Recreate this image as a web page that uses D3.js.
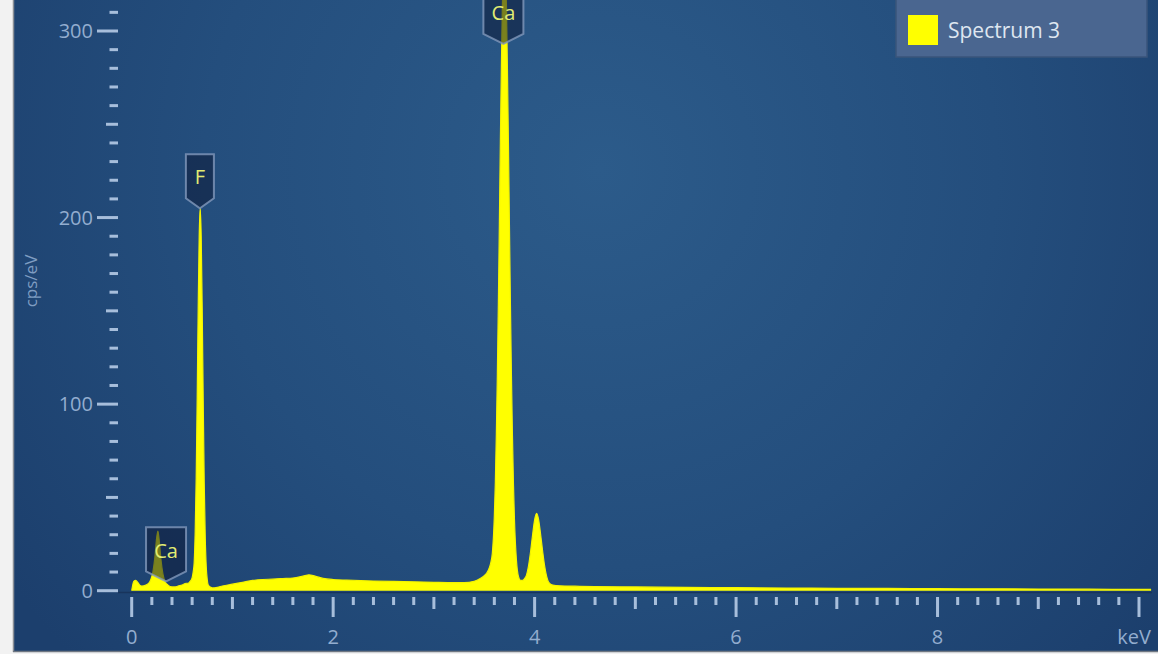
<!DOCTYPE html>
<html><head><meta charset="utf-8">
<script src="https://cdn.jsdelivr.net/npm/d3@7"></script>
<style>
html,body{margin:0;padding:0;background:#f2f2f2;}
svg{display:block;}
</style></head>
<body>
<svg id="c" width="1158" height="654"></svg>
<script>
// ---- data ----
const energy = [0.00,0.01,0.02,0.04,0.06,0.08,0.10,0.14,0.17,0.19,0.21,0.23,0.245,0.26,0.275,0.29,0.31,0.33,0.36,0.40,0.43,0.46,0.50,0.54,0.56,0.58,0.60,0.61,0.62,0.63,0.64,0.65,0.66,0.67,0.68,0.69,0.70,0.71,0.72,0.73,0.74,0.75,0.76,0.78,0.80,0.85,0.90,1.00,1.10,1.20,1.30,1.40,1.50,1.60,1.70,1.76,1.82,1.90,2.00,2.20,2.40,2.60,2.80,3.00,3.20,3.30,3.40,3.46,3.50,3.54,3.56,3.58,3.60,3.61,3.62,3.63,3.64,3.65,3.66,3.67,3.68,3.69,3.70,3.71,3.72,3.73,3.74,3.75,3.76,3.77,3.78,3.79,3.80,3.82,3.84,3.86,3.88,3.90,3.92,3.94,3.96,3.98,4.00,4.02,4.04,4.06,4.08,4.10,4.12,4.14,4.18,4.25,4.40,4.60,5.00,5.50,6.00,6.50,7.00,7.50,8.00,8.50,9.00,9.50,10.00,10.12];
const counts = [0,3,5,5.5,4.5,3,2.5,3,4,6,10,18,27,32,26,17,9,5,3,2,2,2.5,3,4,4,5,7,10,15,31,60,103,151,190,205,190,151,102,58,29,13,6,3,2,1.5,1.8,2.5,3.5,4.5,5.5,6,6.2,6.5,6.8,7.8,8.5,7.8,6.6,6,5.6,5.2,5,4.8,4.5,4.3,4.3,5,6.5,8,11,14,20,40,58,84,116,154,197,241,281,314,335,344,335,314,280,240,196,153,115,83,57,38,16,7.5,5.5,5.5,6.5,8.5,13.5,21,30,38,41.5,38,30,21,13,7.5,4.5,3,2.6,2.4,2.2,2.0,1.8,1.6,1.4,1.3,1.2,1.1,1.0,0.9,0.8,0.7,0.7];
const seriesName = "Spectrum 3";
const peakLabels = ["Ca","F","Ca"];
const peakEnergies = [0.341,0.677,3.69];
const xTickValues = [0,2,4,6,8,10];
const xTickLabels = ["0","2","4","6","8","keV"];
const yTickValues = [0,100,200,300];
const yTickLabels = ["0","100","200","300"];
const yTitle = "cps/eV";

// ---- layout ----
const svg = d3.select("#c");
const W = 1158, H = 654;
const panel = {x0:14, y0:0, x1:1158, y1:651};
const x = d3.scaleLinear().domain([0,10]).range([131.7,1139]);
const y = d3.scaleLinear().domain([0,300]).range([590.7,31]);

const defs = svg.append("defs");
const rg = defs.append("radialGradient").attr("id","bg")
  .attr("gradientUnits","userSpaceOnUse").attr("cx",600).attr("cy",170).attr("r",720);
rg.append("stop").attr("offset","0").attr("stop-color","#2c5b8a");
rg.append("stop").attr("offset","0.55").attr("stop-color","#244e7d");
rg.append("stop").attr("offset","1").attr("stop-color","#1c3f6d");
defs.append("clipPath").attr("id","plotclip").append("rect")
  .attr("x",118).attr("y",0).attr("width",1152-118).attr("height",591.5);

// page / panel
svg.append("rect").attr("x",0).attr("y",0).attr("width",W).attr("height",H).attr("fill","#f2f2f2");
svg.append("rect").attr("x",panel.x0).attr("y",panel.y0).attr("width",panel.x1-panel.x0).attr("height",panel.y1-panel.y0).attr("fill","url(#bg)");
svg.append("line").attr("x1",13.5).attr("x2",13.5).attr("y1",0).attr("y2",652).attr("stroke","#8a8f96").attr("stroke-width",1.5);
svg.append("line").attr("x1",13).attr("x2",W).attr("y1",651.5).attr("y2",651.5).attr("stroke","#6f7782").attr("stroke-width",1.5);

// spectrum
const pts = energy.map((e,i)=>[e,counts[i]]);
const g = svg.append("g").attr("clip-path","url(#plotclip)");
g.append("path").datum(pts)
  .attr("d", d3.area().x(d=>x(d[0])).y0(y(0)).y1(d=>y(d[1])).curve(d3.curveMonotoneX))
  .attr("fill","#ffff00");
g.append("path").datum(pts)
  .attr("d", d3.line().x(d=>x(d[0])).y(d=>y(d[1])).curve(d3.curveMonotoneX))
  .attr("fill","none").attr("stroke","#f4f400").attr("stroke-width",1.2);
svg.append("line").attr("x1",118).attr("x2",1152).attr("y1",y(0)+1.8).attr("y2",y(0)+1.8)
  .attr("stroke","#18345c").attr("stroke-width",1.5);

// axis styling colours
const tickCol = "#a7bedb", labCol = "#93adcf", font = "'Open Sans', 'Noto Sans', sans-serif";

// y ticks
const yMinor = d3.range(0, 311, 10);
svg.append("g").selectAll("rect").data(yMinor).join("rect")
  .attr("x", d => d%100===0 ? 97 : (d%50===0 ? 106 : 109.5))
  .attr("y", d => y(d)-1.5)
  .attr("width", d => d%100===0 ? 21 : (d%50===0 ? 12 : 8.5))
  .attr("height", 3)
  .attr("fill", tickCol);
svg.append("g").selectAll("text").data(yTickValues).join("text")
  .attr("x",93).attr("y",d=>y(d)).attr("dy","0.36em")
  .attr("text-anchor","end").attr("font-family",font).attr("font-size",20)
  .attr("fill",labCol).text((d,i)=>yTickLabels[i]);
svg.append("text").attr("transform","translate(37,281) rotate(-90)")
  .attr("text-anchor","middle").attr("font-family",font).attr("font-size",17)
  .attr("fill","#7f9dc2").text(yTitle);

// x ticks
const xMinor = d3.range(0, 51).map(i=>i*0.2);
svg.append("g").selectAll("rect").data(xMinor).join("rect")
  .attr("x", d => x(d)-1.5)
  .attr("y", 597)
  .attr("width", 3)
  .attr("height", (d,i) => i%10===0 ? 20 : (i%5===0 ? 12 : 8))
  .attr("fill", tickCol);
svg.append("g").selectAll("text").data(xTickValues).join("text")
  .attr("x",(d,i)=> i===xTickValues.length-1 ? x(d)+12 : x(d)).attr("y",637).attr("dy","0.36em")
  .attr("text-anchor",(d,i)=> i===xTickValues.length-1 ? "end" : "middle")
  .attr("font-family",font).attr("font-size",20)
  .attr("fill",labCol).text((d,i)=>xTickLabels[i]);

// peak markers
const peakMax = e => d3.max(energy.map((v,i)=>Math.abs(v-e)<=0.012?counts[i]:null).filter(v=>v!==null)) || 0;
const mk = svg.append("g");
peakLabels.forEach((lab,i)=>{
  const cx = x(peakEnergies[i]);
  let tip = Math.max(y(peakMax(peakEnergies[i])), 44);
  const bw = lab.length===1 ? 28 : 40, bh = 44;
  const bot = tip - 10, top = bot - bh;
  const p = `M${cx-bw/2},${top} L${cx+bw/2},${top} L${cx+bw/2},${bot} L${cx},${tip} L${cx-bw/2},${bot} Z`;
  mk.append("path").attr("d",p).attr("fill","rgba(12,26,55,0.55)")
    .attr("stroke","#8299bb").attr("stroke-width",2).attr("stroke-opacity",0.8);
  mk.append("text").attr("x",cx).attr("y",(top+bot)/2+1).attr("dy","0.36em")
    .attr("text-anchor","middle").attr("font-family",font).attr("font-size",20)
    .attr("fill","#e2ec72").text(lab);
});

// legend
const lg = svg.append("g");
lg.append("rect").attr("x",896).attr("y",-4).attr("width",251).attr("height",61)
  .attr("fill","#4a6690").attr("stroke","#3a557b").attr("stroke-width",1.5);
lg.append("rect").attr("x",908).attr("y",15).attr("width",30).attr("height",30).attr("fill","#ffff00");
lg.append("text").attr("x",948).attr("y",30).attr("dy","0.36em")
  .attr("font-family",font).attr("font-size",21).attr("fill","#dfe6f0").text(seriesName);
</script>
</body></html>
